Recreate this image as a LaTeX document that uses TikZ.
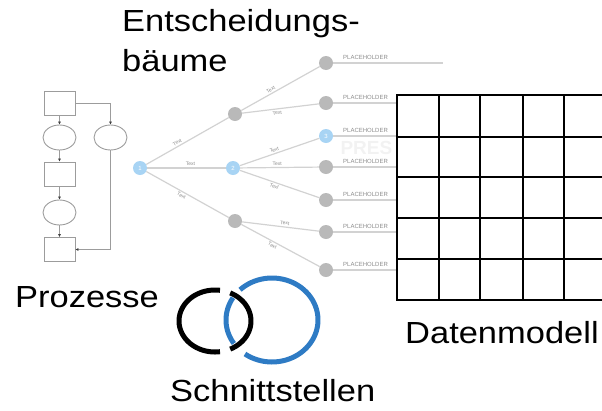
\documentclass[tikz,border=0pt]{standalone}
\usepackage{fontspec}
\setmainfont{Liberation Sans}
\newfontfamily\capfont[FakeStretch=1.13]{Liberation Sans}
\usetikzlibrary{shapes.geometric,arrows.meta}

\definecolor{flowgray}{HTML}{9C9C9C}
\definecolor{edgegray}{HTML}{D2D2D2}
\definecolor{nodegray}{HTML}{B9B9B9}
\definecolor{nodeblue}{HTML}{A8D4F4}
\definecolor{ringblue}{HTML}{2E7BC4}

\begin{document}
\begin{tikzpicture}[x=1pt,y=-1pt,
  caption/.style={font=\capfont\fontsize{30.5}{40.5}\selectfont, inner sep=0pt, anchor=base west},
  procbox/.style={draw=flowgray, line width=0.9pt, minimum width=31pt, minimum height=24pt, inner sep=0pt},
  procstate/.style={ellipse, draw=flowgray, line width=0.9pt, minimum width=33pt, minimum height=25pt, inner sep=0pt},
  flow/.style={flowgray, line width=0.9pt, -{Latex[length=3pt,width=3pt,color=black!75]}},
  gnode/.style={circle, fill=nodegray, minimum size=14pt, inner sep=0pt},
  bnode/.style={circle, fill=nodeblue, minimum size=14pt, inner sep=0pt, text=white, font=\fontsize{6}{6}\selectfont},
  branch/.style={draw=edgegray, line width=1.2pt},
  tlabel/.style={font=\fontsize{5}{5}\selectfont, text=black!45, sloped, inner sep=1.5pt},
  leafname/.style={font=\fontsize{6}{6}\selectfont, text=black!45, inner sep=0pt, anchor=base west},
  gridline/.style={line width=2pt, black},
  ring/.style={line width=5pt}]
  \useasboundingbox (0,0) rectangle (602,410);

  % process chart
  \node[procbox] (b1) at (59.5,103) {};
  \node[procstate] (e1) at (59.5,137.5) {};
  \node[procbox] (b2) at (59.5,174) {};
  \node[procstate] (e2) at (59.5,212.5) {};
  \node[procbox] (b3) at (59.5,249.5) {};
  \node[procstate] (e3) at (110.5,137.5) {};
  \draw[flow] (b1) -- (e1);
  \draw[flow] (e1) -- (b2);
  \draw[flow] (b2) -- (e2);
  \draw[flow] (e2) -- (b3);
  \draw[flow] (b1.east) -| (e3.north);
  \draw[flow] (e3.south) |- (b3.east);

  % decision tree
  \node[text=black!5, font=\fontsize{19}{19}\selectfont\bfseries, anchor=west] (mark) at (337,148) {PRES};
  \node[bnode] (r) at (140,168) {1};
  \node[gnode] (n1) at (235,114) {};
  \node[bnode] (n2) at (233,168) {2};
  \node[gnode] (n3) at (235,221) {};
  \foreach \i/\y in {1/63,2/103,4/167,5/200,6/232,7/270}
    \node[gnode] (l\i) at (326,\y) {};
  \node[bnode] (l3) at (326,136) {3};

  \draw[branch] (r) -- node[tlabel, above, pos=.4] {Text} (n1);
  \draw[branch] (r) -- node[tlabel, above, pos=.55] {Text} (n2);
  \draw[branch] (r) -- node[tlabel, below, pos=.45] {Text} (n3);
  \draw[branch] (n1) -- node[tlabel, above, pos=.4] {Text} (l1);
  \draw[branch] (n1) -- node[tlabel, below, pos=.45] {Text} (l2);
  \draw[branch] (n2) -- node[tlabel, above, pos=.45] {Text} (l3);
  \draw[branch] (n2) -- node[tlabel, above, pos=.47] {Text} (l4);
  \draw[branch] (n2) -- node[tlabel, below, pos=.45] {Text} (l5);
  \draw[branch] (n3) -- node[tlabel, above, pos=.55] {Text} (l6);
  \draw[branch] (n3) -- node[tlabel, below, pos=.42] {Text} (l7);

  \foreach \i/\y in {1/63,2/103,3/136,4/167,5/200,6/232,7/270} {
    \coordinate (t\i) at (443,\y);
    \draw[branch] (l\i) -- (t\i);
    \node[leafname] (p\i) at (343,\y-4) {PLACEHOLDER};
  }

  % data model grid
  \fill[white] (397,95) rectangle (602,300);
  \foreach \x in {397,439,480,523,564}
    \draw[gridline] (\x,95) -- (\x,300);
  \foreach \y in {95,137,177,218,259,300}
    \draw[gridline] (396,\y) -- (602,\y);

  % interlocked rings, each one split into two arcs
  \draw[ring, ringblue] plot[smooth, domain=-134:126, samples=60] ({272+46*cos(\x)}, {320+42*sin(\x)});
  \draw[ring, ringblue] plot[smooth, domain=146:212, samples=20] ({272+46*cos(\x)}, {320+42*sin(\x)});
  \draw[ring, black] plot[smooth, domain=82:278, samples=50] ({215+36*cos(\x)}, {321+31*sin(\x)});
  \draw[ring, black] plot[smooth, domain=-65:65, samples=40] ({215+36*cos(\x)}, {321+31*sin(\x)});

  % captions
  \node[caption, align=left, anchor=north west] (trees) at (122,9) {Entscheidungs-\\bäume};
  \node[caption] (procs) at (15,307) {Prozesse};
  \node[caption] (model) at (405,343) {Datenmodell};
  \node[caption] (iface) at (170,401) {Schnittstellen};
\end{tikzpicture}
\end{document}
